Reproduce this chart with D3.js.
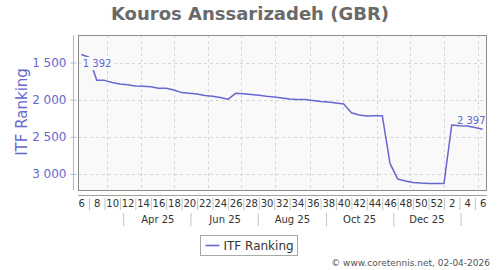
<!DOCTYPE html>
<html>
<head>
<meta charset="utf-8">
<script src="https://cdn.jsdelivr.net/npm/d3@7"></script>
<style>
  body { margin: 0; background: #fff; }
  svg { display: block; font-family: 'DejaVu Sans', sans-serif; }
</style>
</head>
<body>
<svg id="chart" width="500" height="270"></svg>
<script>
// ISO week of each weekly ranking, Feb 2025 -> Feb 2026
const weeks = [6, 7, 8, 9, 10, 11, 12, 13, 14, 15, 16, 17, 18, 19, 20, 21, 22, 23, 24, 25,
  26, 27, 28, 29, 30, 31, 32, 33, 34, 35, 36, 37, 38, 39, 40, 41, 42, 43, 44, 45,
  46, 47, 48, 49, 50, 51, 52, 1, 2, 3, 4, 5, 6]
const ranking = [1392, 1430, 1740, 1740, 1770, 1790, 1800, 1815, 1820, 1825, 1845, 1845, 1870, 1905, 1915, 1925, 1945, 1955, 1970, 1995,
  1915, 1920, 1930, 1942, 1955, 1965, 1978, 1991, 1998, 1998, 2012, 2025, 2032, 2045, 2059, 2176, 2207, 2220, 2216, 2216,
  2857, 3068, 3095, 3113, 3122, 3126, 3126, 3126, 2341, 2351, 2355, 2375, 2397]
const monthLabels = ['Apr 25', 'Jun 25', 'Aug 25', 'Oct 25', 'Dec 25']
const rankTicks = [1500, 2000, 2500, 3000]
const labelledPoints = [0, ranking.length - 1]

const lineColor = '#6767cf'
const plot = { left: 78, top: 35, right: 487, bottom: 190 }

const firstWeek = new Date(2025, 1, 6)
const data = ranking.map((rank, i) => ({
  week: weeks[i],
  rank: rank,
  date: d3.timeDay.offset(firstWeek, 7 * i)
}))

const fmt = d3.formatLocale({ decimal: '.', thousands: ' ', grouping: [3], currency: ['', ''] }).format(',')

const x = d3.scaleTime()
  .domain([new Date(2025, 1, 3), new Date(2026, 1, 9)])
  .range([plot.left, plot.right])

const y = d3.scaleLinear()
  .domain([1130, 3215])
  .range([plot.top, plot.bottom])

const svg = d3.select('#chart')

// Title
svg.append('text')
  .attr('x', 250)
  .attr('y', 20)
  .attr('text-anchor', 'middle')
  .attr('font-size', 18)
  .attr('font-weight', 'bold')
  .attr('fill', '#6a6a6a')
  .text('Kouros Anssarizadeh (GBR)')

// Plot background
svg.append('rect')
  .attr('x', plot.left)
  .attr('y', plot.top)
  .attr('width', plot.right - plot.left)
  .attr('height', plot.bottom - plot.top)
  .attr('fill', '#f9f9f9')

// Grid lines
const grid = svg.append('g')
  .attr('stroke', '#d6d6d6')
  .attr('stroke-dasharray', '3,3')

grid.selectAll('line.v')
  .data(d3.timeMonth.range(new Date(2025, 2, 1), new Date(2026, 1, 2)))
  .join('line')
  .attr('class', 'v')
  .attr('x1', d => Math.round(x(d)) + 0.5)
  .attr('x2', d => Math.round(x(d)) + 0.5)
  .attr('y1', plot.top)
  .attr('y2', plot.bottom)

grid.selectAll('line.h')
  .data(rankTicks)
  .join('line')
  .attr('class', 'h')
  .attr('x1', plot.left)
  .attr('x2', plot.right)
  .attr('y1', d => Math.round(y(d)) + 0.5)
  .attr('y2', d => Math.round(y(d)) + 0.5)

// Ranking line
const line = d3.line()
  .x(d => x(d.date))
  .y(d => y(d.rank))

svg.append('path')
  .datum(data)
  .attr('fill', 'none')
  .attr('stroke', lineColor)
  .attr('stroke-width', 1.5)
  .attr('stroke-linejoin', 'round')
  .attr('d', line)

// Value labels on first and last point
const labels = svg.append('g')
  .attr('font-size', 10)
  .attr('fill', lineColor)

labelledPoints.forEach((i, k) => {
  const d = data[i]
  const px = x(d.date)
  const py = y(d.rank)
  const first = k === 0
  const g = labels.append('g')
  const t = g.append('text')
    .attr('x', first ? px + 1.5 : px + 3)
    .attr('y', first ? py + 12.5 : py - 5)
    .attr('text-anchor', first ? 'start' : 'end')
    .text(fmt(d.rank))
  if (first) {
    const b = t.node().getBBox()
    g.insert('rect', 'text')
      .attr('x', b.x)
      .attr('y', b.y - 1)
      .attr('width', b.width + 1)
      .attr('height', b.height + 2)
      .attr('fill', '#f9f9f9')
  }
})

// Plot border
svg.append('rect')
  .attr('x', plot.left + 0.5)
  .attr('y', plot.top + 0.5)
  .attr('width', plot.right - plot.left - 1)
  .attr('height', plot.bottom - plot.top)
  .attr('fill', 'none')
  .attr('stroke', '#8c8c8c')

// Y axis
const yAxis = svg.append('g')
  .attr('transform', 'translate(73.5,0)')
  .call(d3.axisLeft(y).tickValues(rankTicks).tickFormat(fmt).tickSize(3).tickPadding(4))

yAxis.select('.domain')
  .attr('d', `M0,${plot.top}V${plot.bottom}`)
  .attr('stroke', '#b4b4e4')
yAxis.selectAll('.tick line')
  .attr('x2', -3)
  .attr('x1', 3)
  .attr('stroke', '#b4b4e4')
yAxis.selectAll('.tick text')
  .attr('font-size', 12)
  .attr('font-family', 'DejaVu Sans, sans-serif')
  .attr('fill', lineColor)

svg.append('text')
  .attr('transform', 'translate(27,112) rotate(-90)')
  .attr('text-anchor', 'middle')
  .attr('font-size', 15)
  .attr('fill', lineColor)
  .text('ITF Ranking')

// X axis: week numbers with separators between them
svg.append('line')
  .attr('x1', plot.left)
  .attr('x2', plot.right)
  .attr('y1', 195.5)
  .attr('y2', 195.5)
  .attr('stroke', '#a0a0a0')

const evenWeeks = data.filter(d => d.week % 2 === 0)
const weekAxis = svg.append('g')
  .attr('transform', 'translate(0,196)')
  .call(d3.axisBottom(x)
    .tickValues(evenWeeks.map(d => d.date))
    .tickFormat((d, i) => evenWeeks[i].week)
    .tickSize(0)
    .tickPadding(4))
weekAxis.select('.domain').remove()
weekAxis.selectAll('text')
  .attr('font-size', 10)
  .attr('font-family', 'DejaVu Sans, sans-serif')
  .attr('fill', '#333')

const weekSep = svg.append('g')
  .attr('transform', 'translate(0,198)')
  .call(d3.axisBottom(x)
    .tickValues(data.filter(d => d.week % 2 === 1).map(d => d.date))
    .tickFormat('')
    .tickSize(12))
weekSep.select('.domain').remove()
weekSep.selectAll('line').attr('stroke', '#c4c4c4')

// X axis: months
const monthAxis = svg.append('g')
  .attr('transform', 'translate(0,213)')
  .call(d3.axisBottom(x)
    .tickValues(monthLabels.map((m, i) => new Date(2025, 3 + 2 * i, 16)))
    .tickFormat((d, i) => monthLabels[i])
    .tickSize(0)
    .tickPadding(3))
monthAxis.select('.domain').remove()
monthAxis.selectAll('text')
  .attr('font-size', 10)
  .attr('font-family', 'DejaVu Sans, sans-serif')
  .attr('fill', '#333')

const monthSep = svg.append('g')
  .attr('transform', 'translate(0,213)')
  .call(d3.axisBottom(x)
    .tickValues(d3.range(6).map(i => new Date(2025, 2 + 2 * i, 16)))
    .tickFormat('')
    .tickSize(13))
monthSep.select('.domain').remove()
monthSep.selectAll('line').attr('stroke', '#c4c4c4')

// Legend
const legend = svg.append('g').attr('transform', 'translate(200.5,235.5)')
legend.append('rect')
  .attr('width', 97)
  .attr('height', 20)
  .attr('fill', '#fff')
  .attr('stroke', '#a8a8a8')
legend.append('line')
  .attr('x1', 5)
  .attr('x2', 19)
  .attr('y1', 10)
  .attr('y2', 10)
  .attr('stroke', lineColor)
  .attr('stroke-width', 1.6)
legend.append('text')
  .attr('x', 23)
  .attr('y', 14.5)
  .attr('font-size', 12)
  .attr('fill', '#333')
  .text('ITF Ranking')

// Footer
svg.append('text')
  .attr('x', 490)
  .attr('y', 266)
  .attr('text-anchor', 'end')
  .attr('font-size', 9)
  .attr('fill', '#555')
  .text('© www.coretennis.net, 02-04-2026')
</script>
</body>
</html>
